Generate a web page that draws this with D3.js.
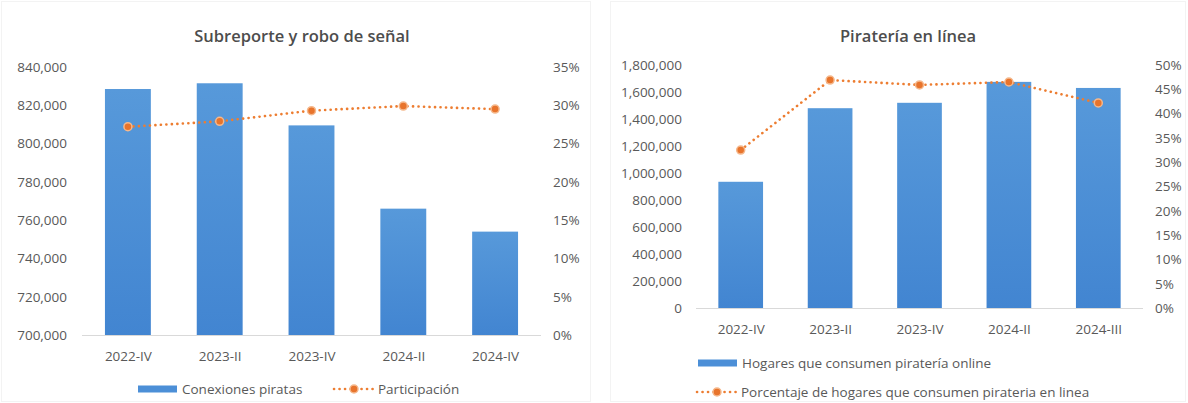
<!DOCTYPE html>
<html>
<head>
<meta charset="utf-8">
<script src="https://cdn.jsdelivr.net/npm/d3@7/dist/d3.min.js"></script>
<style>
  html, body { margin: 0; padding: 0; background: #fff; }
  svg { display: block; }
  text { font-family: "Open Sans", "Noto Sans", sans-serif; fill: #595959; }
</style>
</head>
<body>
<svg id="chart" width="1188" height="403"></svg>
<script>
// ---- Subreporte y robo de señal ----
const signalCategories = ["2022-IV", "2023-II", "2023-IV", "2024-II", "2024-IV"];
const signalConnections = [828500, 831500, 809500, 766000, 754000];
const signalShare = [0.272, 0.279, 0.293, 0.299, 0.295];
const signalLeftTicks = [700000, 720000, 740000, 760000, 780000, 800000, 820000, 840000];
const signalRightTicks = [0, 0.05, 0.10, 0.15, 0.20, 0.25, 0.30, 0.35];

// ---- Piratería en línea ----
const onlineCategories = ["2022-IV", "2023-II", "2023-IV", "2024-II", "2024-III"];
const onlineHouseholds = [935000, 1480000, 1520000, 1675000, 1630000];
const onlineShare = [0.325, 0.469, 0.459, 0.465, 0.422];
const onlineLeftTicks = [0, 200000, 400000, 600000, 800000, 1000000, 1200000, 1400000, 1600000, 1800000];
const onlineRightTicks = [0, 0.05, 0.10, 0.15, 0.20, 0.25, 0.30, 0.35, 0.40, 0.45, 0.50];

const BAR = "#4c8fd7";
const LINE = "#ed7d31";
const FONT = "13.5px";

const svg = d3.select("#chart");

const defs = svg.append("defs");
const grad = defs.append("linearGradient")
  .attr("id", "barFill").attr("x1", 0).attr("y1", 0).attr("x2", 0).attr("y2", 1);
grad.append("stop").attr("offset", "0%").attr("stop-color", "#5799da");
grad.append("stop").attr("offset", "100%").attr("stop-color", "#4285d1");

const fmtNum = d3.format(",");
const fmtPct = d3.format(".0%");

function drawComboChart(o) {
  const g = svg.append("g");

  // faint chart frame
  g.append("rect")
    .attr("x", o.frame[0]).attr("y", o.frame[1])
    .attr("width", o.frame[2]).attr("height", o.frame[3])
    .attr("fill", "none").attr("stroke", "#f3f3f3").attr("stroke-width", 1);

  const x = d3.scaleBand().domain(o.categories).range([o.left, o.right]).paddingInner(0.5).paddingOuter(0.25);
  const xc = d3.scalePoint().domain(o.categories).range([o.left, o.right]).padding(0.5);
  const y = d3.scaleLinear().domain(o.barDomain).range([o.bottom, o.top]);
  const y2 = d3.scaleLinear().domain(o.lineDomain).range([o.bottom, o.top]);

  // title
  g.append("text")
    .attr("x", o.titleX).attr("y", o.titleY)
    .attr("text-anchor", "middle").attr("dominant-baseline", "central")
    .style("font-size", "16.5px").style("font-weight", 600).style("fill", "#4d4d4d")
    .text(o.title);

  // left value axis
  const yAxis = g.append("g").attr("transform", `translate(${o.leftLabelX},0)`)
    .call(d3.axisLeft(y).tickValues(o.leftTicks).tickFormat(fmtNum).tickSize(0).tickPadding(0));
  yAxis.select(".domain").remove();
  yAxis.selectAll("text").style("font-size", FONT).style("fill", "#595959").attr("font-family", null);

  // right percentage axis
  const y2Axis = g.append("g").attr("transform", `translate(${o.rightLabelX},0)`)
    .call(d3.axisRight(y2).tickValues(o.rightTicks).tickFormat(fmtPct).tickSize(0).tickPadding(0));
  y2Axis.select(".domain").remove();
  y2Axis.selectAll("text").style("font-size", FONT).style("fill", "#595959").attr("font-family", null);

  // bars
  g.selectAll("rect.bar").data(o.bars).join("rect")
    .attr("class", "bar")
    .attr("x", (d, i) => x(o.categories[i]))
    .attr("width", x.bandwidth())
    .attr("y", d => y(d))
    .attr("height", d => o.bottom - y(d))
    .attr("fill", "url(#barFill)");

  // category axis
  const xAxis = g.append("g").attr("transform", `translate(0,${o.bottom})`)
    .call(d3.axisBottom(xc).tickSize(0).tickPadding(o.catPad));
  xAxis.select(".domain").attr("stroke", "#d9d9d9").attr("stroke-width", 1)
    .attr("d", `M${o.left},0.5H${o.right}`);
  xAxis.selectAll("text").style("font-size", FONT).style("fill", "#595959").attr("font-family", null);

  // dotted share line
  const line = d3.line().x((d, i) => xc(o.categories[i])).y(d => y2(d));
  g.append("path").datum(o.share)
    .attr("d", line).attr("fill", "none")
    .attr("stroke", LINE).attr("stroke-width", 2.6)
    .attr("stroke-linecap", "round").attr("stroke-dasharray", "0.1 5.4");

  g.selectAll("circle.pt").data(o.share).join("circle")
    .attr("class", "pt")
    .attr("cx", (d, i) => xc(o.categories[i]))
    .attr("cy", d => y2(d))
    .attr("r", 4)
    .attr("fill", "#e8742c").attr("stroke", "#f5b88c").attr("stroke-width", 1.5);

  // legend
  o.legend.forEach(item => {
    const lg = g.append("g").attr("transform", `translate(${item.x},${item.y})`);
    if (item.type === "bar") {
      lg.append("rect").attr("x", 0).attr("y", -3.5).attr("width", 39).attr("height", 7).attr("fill", BAR);
      lg.append("text").attr("x", 44).attr("y", 0).attr("dominant-baseline", "central")
        .style("font-size", FONT).text(item.label);
    } else {
      lg.append("line").attr("x1", 1).attr("x2", 41).attr("y1", 0).attr("y2", 0)
        .attr("stroke", LINE).attr("stroke-width", 2.6)
        .attr("stroke-linecap", "round").attr("stroke-dasharray", "0.1 5.4");
      lg.append("circle").attr("cx", 21).attr("cy", 0).attr("r", 4)
        .attr("fill", "#e8742c").attr("stroke", "#f5b88c").attr("stroke-width", 1.5);
      lg.append("text").attr("x", 45).attr("y", 0).attr("dominant-baseline", "central")
        .style("font-size", FONT).text(item.label);
    }
  });
}

drawComboChart({
  frame: [1.5, 1.5, 589, 400],
  title: "Subreporte y robo de señal", titleX: 302, titleY: 35,
  categories: signalCategories, bars: signalConnections, share: signalShare,
  barDomain: [700000, 840000], lineDomain: [0, 0.35],
  leftTicks: signalLeftTicks, rightTicks: signalRightTicks,
  left: 82, right: 541, top: 67, bottom: 335,
  leftLabelX: 67, rightLabelX: 553, catPad: 16,
  legend: [
    { type: "bar", label: "Conexiones piratas", x: 138, y: 389 },
    { type: "line", label: "Participación", x: 333, y: 389 }
  ]
});

drawComboChart({
  frame: [610.5, 1.5, 575, 400],
  title: "Piratería en línea", titleX: 908, titleY: 35,
  categories: onlineCategories, bars: onlineHouseholds, share: onlineShare,
  barDomain: [0, 1800000], lineDomain: [0, 0.50],
  leftTicks: onlineLeftTicks, rightTicks: onlineRightTicks,
  left: 696, right: 1143, top: 65, bottom: 308,
  leftLabelX: 682, rightLabelX: 1155, catPad: 16,
  legend: [
    { type: "bar", label: "Hogares que consumen piratería online", x: 698, y: 363 },
    { type: "line", label: "Porcentaje de hogares que consumen pirateria en linea", x: 696, y: 392 }
  ]
});
</script>
</body>
</html>
